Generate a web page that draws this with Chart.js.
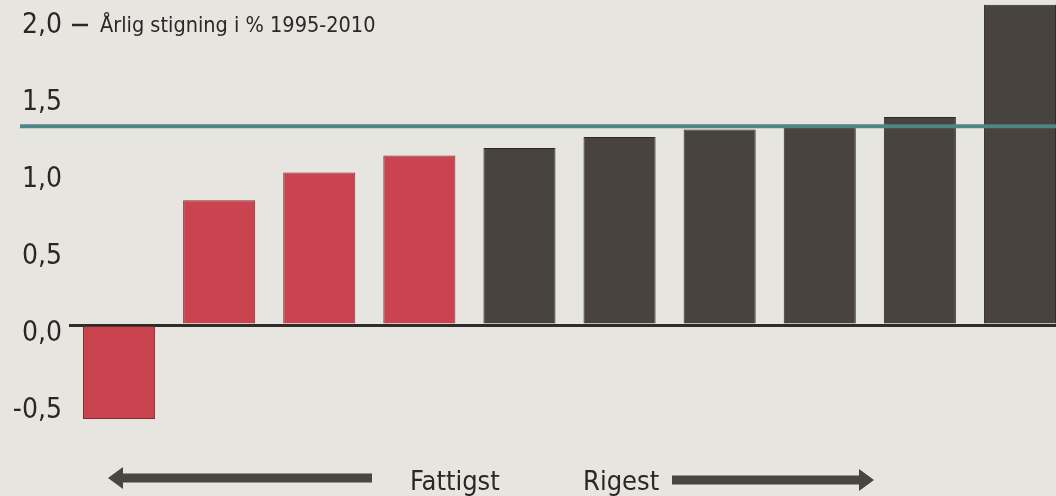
<!DOCTYPE html>
<html>
<head>
<meta charset="utf-8">
<script src="https://cdn.jsdelivr.net/npm/chart.js@4/dist/chart.umd.min.js"></script>
<style>
  html, body { margin: 0; padding: 0; background: #e7e5e0; overflow: hidden; }
  #wrap { position: absolute; left: 0; top: 0; width: 1070px; height: 496px; }
</style>
</head>
<body>
<div id="wrap"><canvas id="graf"></canvas></div>
<script>
// Årlig stigning i % 1995-2010, grupper fra fattigst til rigest
const grupper = ['1', '2', '3', '4', '5', '6', '7', '8', '9', '10'];
const stigning = [-0.61, 0.81, 0.99, 1.10, 1.15, 1.22, 1.27, 1.30, 1.35, 2.08];
const fattigeGrupper = 4;          // de fire første søjler er røde
const gennemsnit = 1.29;           // vandret linje
const tickValues = [-0.5, 0, 0.5, 1.0, 1.5, 2.0];
const tickLabels = ['-0,5', '0,0', '0,5', '1,0', '1,5', '2,0'];

const FONT = '"Liberation Sans Narrow", "DejaVu Sans Condensed", "Roboto", sans-serif';
const roed = '#c9444f';
const moerk = '#49433f';

const ekstra = {
  id: 'ekstra',
  beforeDraw(chart) {
    const c = chart.ctx;
    c.save();
    c.fillStyle = '#e7e5e0';
    c.fillRect(0, 0, chart.width, chart.height);
    c.restore();
  },
  afterDatasetsDraw(chart) {
    const c = chart.ctx;
    const y = chart.scales.y.getPixelForValue(gennemsnit);
    c.save();
    c.strokeStyle = '#4f8587';
    c.lineWidth = 4;
    c.beginPath();
    c.moveTo(20, y);
    c.lineTo(chart.width, y);
    c.stroke();
    c.restore();
  },
  afterDraw(chart) {
    const c = chart.ctx;
    c.save();
    c.fillStyle = '#2a2826';
    c.strokeStyle = '#2a2826';
    // streg + titel ved 2,0
    c.lineWidth = 2.5;
    c.beginPath();
    c.moveTo(72, 25);
    c.lineTo(88, 25);
    c.stroke();
    c.font = '21.5px ' + FONT;
    c.textBaseline = 'alphabetic';
    c.fillText('Årlig stigning i % 1995-2010', 100, 32, 278);

    // pile
    c.fillStyle = '#4a4541';
    const pil = (fra, til, y) => {
      const dir = til > fra ? 1 : -1;
      const hoved = 15;
      c.fillRect(Math.min(fra, til - dir * hoved), y - 4.5, Math.abs(til - dir * hoved - fra), 9);
      c.beginPath();
      c.moveTo(til, y);
      c.lineTo(til - dir * hoved, y - 11);
      c.lineTo(til - dir * hoved, y + 11);
      c.closePath();
      c.fill();
    };
    pil(372, 108, 478);
    pil(672, 874, 480);

    c.fillStyle = '#2a2826';
    c.font = '27px ' + FONT;
    c.fillText('Fattigst', 410, 490);
    c.fillText('Rigest', 583, 490);
    c.restore();
  }
};

new Chart(document.getElementById('graf'), {
  type: 'bar',
  data: {
    labels: grupper,
    datasets: [{
      data: stigning,
      backgroundColor: stigning.map((v, i) => i < fattigeGrupper ? roed : moerk),
      borderColor: stigning.map((v, i) => i < fattigeGrupper ? '#8a2a33' : '#2c2826'),
      borderWidth: 1,
      barPercentage: 0.72,
      categoryPercentage: 1
    }]
  },
  options: {
    responsive: true,
    maintainAspectRatio: false,
    animation: false,
    layout: { padding: { top: 1.6, bottom: 47.8, left: 0, right: 0 } },
    plugins: { legend: { display: false }, tooltip: { enabled: false } },
    scales: {
      x: { display: false },
      y: {
        min: -0.8,
        max: 2.1,
        afterFit(scale) {
          scale.width = 69;
          scale.paddingTop = 0;
          scale.paddingBottom = 0;
        },
        afterBuildTicks(scale) { scale.ticks = tickValues.map(v => ({ value: v })); },
        border: { display: false },
        grid: {
          drawTicks: false,
          color: ctx => ctx.tick && ctx.tick.value === 0 ? '#2e2b29' : 'rgba(0,0,0,0)',
          lineWidth: ctx => ctx.tick && ctx.tick.value === 0 ? 3 : 0
        },
        ticks: {
          padding: 7,
          labelOffset: 9,
          color: '#2a2826',
          font: { family: FONT, size: 28 },
          callback: (v) => tickLabels[tickValues.indexOf(v)]
        }
      }
    }
  },
  plugins: [ekstra]
});
</script>
</body>
</html>
